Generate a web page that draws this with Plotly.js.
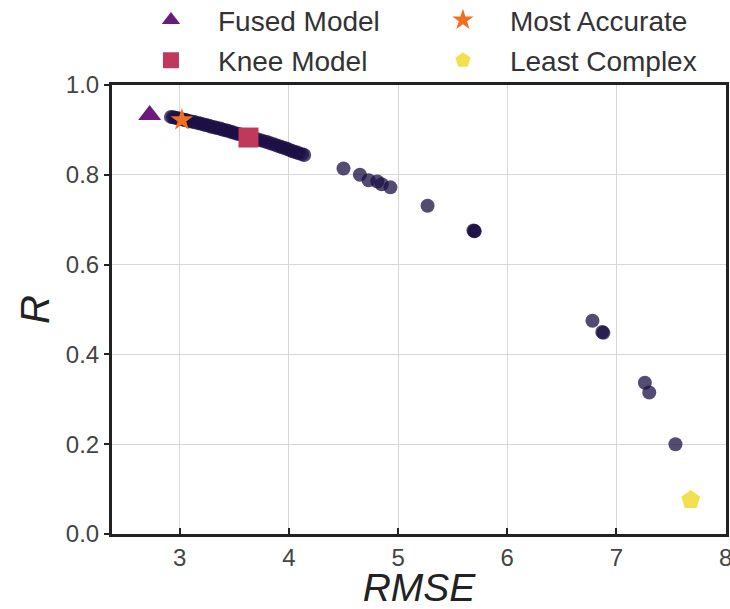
<!DOCTYPE html>
<html>
<head>
<meta charset="utf-8">
<script src="https://cdn.plot.ly/plotly-3.0.1.min.js"></script>
<style>html,body{margin:0;padding:0;background:#fff;}#chart{width:730px;height:609px;}</style>
</head>
<body>
<div id="chart"></div>
<script>
// Pareto front models (RMSE, R)
const modelRMSE = [2.92, 2.94, 2.96, 2.98, 3.00, 3.03, 3.05, 3.07, 3.09, 3.12, 3.14, 3.17, 3.19, 3.22, 3.24, 3.27, 3.29, 3.32, 3.34, 3.37, 3.39, 3.42, 3.44, 3.47, 3.49, 3.52,
                   3.54, 3.57, 3.59, 3.62, 3.65, 3.68, 3.71, 3.74, 3.77, 3.80, 3.83, 3.86, 3.89, 3.92, 3.94, 3.97, 3.99, 4.02, 4.04, 4.07, 4.09, 4.12, 4.14,
                   4.50, 4.65, 4.73, 4.81, 4.85, 4.93, 5.27, 5.69, 5.70, 5.70, 6.78, 6.87, 6.88, 7.26, 7.30, 7.54];
const modelR    = [0.929, 0.928, 0.927, 0.926, 0.925, 0.923, 0.922, 0.921, 0.919, 0.918, 0.917, 0.915, 0.914, 0.912, 0.911, 0.909, 0.907, 0.906, 0.904, 0.903, 0.901, 0.899, 0.898, 0.896, 0.894, 0.892,
                   0.891, 0.889, 0.887, 0.885, 0.883, 0.881, 0.879, 0.877, 0.875, 0.873, 0.870, 0.868, 0.865, 0.863, 0.861, 0.859, 0.857, 0.854, 0.852, 0.850, 0.848, 0.846, 0.844,
                   0.814, 0.800, 0.788, 0.785, 0.779, 0.772, 0.731, 0.676, 0.674, 0.675, 0.475, 0.450, 0.448, 0.337, 0.315, 0.200];

const fusedRMSE = [2.725], fusedR = [0.933];
const kneeRMSE = [3.63], kneeR = [0.883];
const accurateRMSE = [3.02], accurateR = [0.922];
const simpleRMSE = [7.68], simpleR = [0.076];

const xTicks = [3, 4, 5, 6, 7, 8];
const yTicks = [0.0, 0.2, 0.4, 0.6, 0.8, 1.0];

const traces = [
  {x: modelRMSE, y: modelR, type: 'scatter', mode: 'markers', showlegend: false,
   marker: {size: 14, color: '#1c1046', opacity: 0.75, line: {width: 0}}},
  {x: fusedRMSE, y: fusedR, type: 'scatter', mode: 'markers', name: 'Fused Model', legend: 'legend', legendgroup: 'a',
   marker: {symbol: 'triangle-up', size: 20, color: '#6a1b7c', line: {width: 0}}},
  {x: kneeRMSE, y: kneeR, type: 'scatter', mode: 'markers', name: 'Knee Model', legend: 'legend', legendgroup: 'b',
   marker: {symbol: 'square', size: 20, color: '#c0395c', line: {width: 0}}},
  {x: accurateRMSE, y: accurateR, type: 'scatter', mode: 'markers', name: 'Most Accurate', legend: 'legend2', legendgroup: 'c',
   marker: {symbol: 'star', size: 17, color: '#f07020', line: {width: 0}}},
  {x: simpleRMSE, y: simpleR, type: 'scatter', mode: 'markers', name: 'Least Complex', legend: 'legend2', legendgroup: 'd',
   marker: {symbol: 'pentagon', size: 20, color: '#f4e04e', line: {width: 0}}}
];

const legendCommon = {
  orientation: 'v', yanchor: 'top', xanchor: 'left', y: 1.2,
  font: {size: 28, color: '#333333', family: 'Liberation Sans, Arial, sans-serif'},
  bgcolor: 'rgba(0,0,0,0)', borderwidth: 0,
  itemsizing: 'trace', itemwidth: 84, traceorder: 'grouped', tracegroupgap: 1, valign: 'middle'
};

const layout = {
  width: 730, height: 609,
  margin: {l: 112, r: 4, t: 85, b: 75, autoexpand: false},
  paper_bgcolor: '#ffffff', plot_bgcolor: '#ffffff',
  font: {family: 'Liberation Sans, Arial, sans-serif', color: '#333333', size: 24},
  xaxis: {
    range: [2.38, 8.003], tickvals: xTicks, ticktext: xTicks.map(String),
    showgrid: true, gridcolor: '#d6d6d6', gridwidth: 1, zeroline: false,
    showline: true, mirror: true, linecolor: '#222222', linewidth: 3,
    ticks: 'inside', ticklen: 6, tickcolor: '#222222', tickwidth: 2,
    ticklabeloverflow: 'allow',
    tickfont: {size: 24, color: '#444444'},
    title: {text: '<i>RMSE</i>', font: {size: 39, color: '#222222'}, standoff: 14}
  },
  yaxis: {
    range: [0, 1.0], tickvals: yTicks, ticktext: yTicks.map(v => v.toFixed(1)),
    showgrid: true, gridcolor: '#d6d6d6', gridwidth: 1, zeroline: false,
    showline: true, mirror: true, linecolor: '#222222', linewidth: 3,
    ticks: 'outside', ticklen: 5, tickcolor: '#222222', tickwidth: 2,
    tickfont: {size: 24, color: '#444444'},
    title: {text: '<i>R</i>', font: {size: 40, color: '#222222'}, standoff: 4}
  },
  legend: Object.assign({}, legendCommon, {x: 0.0195}),
  legend2: Object.assign({}, legendCommon, {x: 0.495}),
  showlegend: true
};

Plotly.newPlot('chart', traces, layout, {displayModeBar: false, staticPlot: true});
</script>
</body>
</html>
